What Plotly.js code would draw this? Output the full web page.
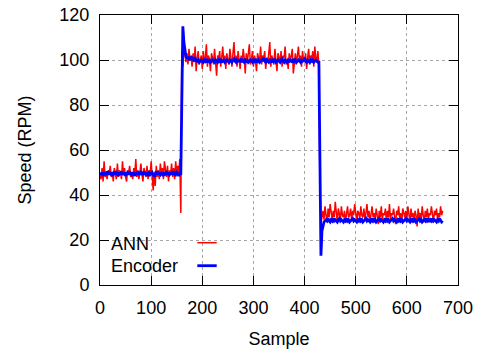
<!DOCTYPE html>
<html>
<head>
<meta charset="utf-8">
<script src="https://cdn.plot.ly/plotly-3.0.1.min.js"></script>
<style>html,body{margin:0;padding:0;background:#fff;}#chart{width:482px;height:352px;}</style>
</head>
<body>
<div id="chart"></div>
<script>
// Samples are every 2 units, starting at 0
var sampleStart = 0;
var sampleStep = 2;

var seriesNames = ["ANN", "Encoder"];

var annSpeed = [
  49, 47, 52, 46, 55, 48, 50, 47, 51, 49,
  53, 48, 50, 46, 52, 49, 47, 54, 48, 51,
  50, 47, 55, 49, 52, 48, 46, 51, 50, 53,
  48, 50, 47, 52, 49, 56, 48, 51, 47, 50,
  54, 49, 46, 52, 50, 48, 53, 47, 51, 49,
  55, 46, 42, 50, 44, 53, 48, 51, 47, 54,
  49, 52, 47, 55, 50, 48, 53, 46, 51, 49,
  54, 48, 52, 47, 55, 50, 53, 49, 56,
  32,
  104, 97, 106, 101, 99, 103, 98, 105, 100, 102,
  97, 103, 99, 106, 95, 101, 104, 98, 100, 102,
  96, 104, 99, 101, 107, 97, 102, 100, 95, 103,
  101, 98, 105, 99, 93, 102, 100, 104, 97, 101,
  106, 99, 102, 96, 103, 100, 98, 105, 101, 97,
  103, 108, 99, 102, 97, 104, 100, 96, 102, 99,
  105, 101, 94, 103, 99, 102, 107, 98, 100, 104,
  97, 102, 100, 95, 103, 101, 99, 106, 98, 102,
  100, 104, 96, 101, 99, 103, 108, 97, 102, 100,
  98, 105, 101, 95, 103, 100, 99, 104, 97, 102,
  101, 106, 98, 100, 96, 103, 99, 102, 105, 94,
  100, 103, 98, 101, 106, 99, 102, 97, 104, 100,
  99, 103, 96, 101, 105, 98, 102, 100, 104, 97,
  106, 101, 99, 104, 98,
  45, 27, 30,
  33, 29, 35, 31, 28, 34, 30, 36, 32, 29,
  33, 30, 37, 31, 28, 34, 32, 29, 35, 31,
  30, 33, 28, 32, 35, 30, 31, 34, 29, 33,
  31, 36, 30, 28, 33, 32, 29, 35, 31, 30,
  34, 29, 32, 36, 30, 33, 28, 31, 35, 30,
  32, 29, 34, 31, 27, 33, 30, 35, 29, 32,
  31, 34, 28, 33, 30, 36, 29, 32, 31, 34,
  30, 27, 33, 31, 35, 29, 32, 28, 34, 31,
  30, 33, 29, 35, 31, 28, 34, 30, 32, 29,
  33, 31, 26, 34, 30, 32, 29, 35, 31, 28,
  33, 30, 34, 29, 32, 31, 35, 30, 28, 33,
  31, 34, 29, 32, 30, 35, 31, 33
];

var encoderSpeed = [
  50, 49, 50, 48.5, 50, 49.5, 49, 50.5, 49, 50,
  49.5, 50, 48.5, 49.5, 50.5, 49, 50, 49.5, 48.5, 50,
  49, 50.5, 49.5, 49, 50, 48.5, 49.5, 50, 49, 50.5,
  49.5, 49, 50, 49.5, 48.5, 50, 49, 50.5, 49.5, 49,
  50, 49.5, 49, 50.5, 49, 50, 48.5, 49.5, 50, 49,
  49.5, 50, 49, 48, 49.5, 50.5, 49, 50, 49.5, 49,
  50, 49.5, 48.5, 50, 49.5, 50.5, 49, 50, 49, 49.5,
  50, 49, 50.5, 49.5, 49, 50, 49.5, 48.5, 49.5,
  49, 85, 115, 108, 103, 101.5, 101,
  101, 100.5, 101.5, 100, 101, 100.5, 99.5, 100.5, 100, 99.5,
  100, 99, 99.5, 100, 99.5, 99, 100, 99.5, 100.5, 99,
  99.5, 100, 99, 99.5, 100, 99.5, 99, 100, 99.5, 99,
  100, 99.5, 100.5, 99, 99.5, 100, 99, 99.5, 100, 99.5,
  99, 100, 99.5, 99, 100, 100.5, 99.5, 99, 100, 99.5,
  99.5, 100, 99, 100.5, 99.5, 99, 100, 99.5, 100, 99,
  99.5, 100, 99.5, 99, 100, 99.5, 100.5, 99, 99.5, 100,
  99, 99.5, 100, 99.5, 101, 99.5, 99, 100, 99.5, 99,
  100, 99.5, 99, 100.5, 99.5, 100, 99, 99.5, 100, 99.5,
  99, 100, 100.5, 99.5, 99, 100, 99.5, 99, 100, 99.5,
  100, 99.5, 99, 100.5, 99.5, 100, 99, 99.5, 100, 99.5,
  99, 100, 99.5, 100, 100.5, 99.5, 99, 100, 99.5, 99,
  100, 99.5, 100, 99, 99.5, 100, 99.5, 99, 99.5,
  60, 13, 24, 27, 28,
  28.5, 29, 28.5, 29.5, 28.5, 28, 29, 28.5, 29.5, 28.5,
  29, 28.5, 28, 29, 29.5, 28.5, 29, 28.5, 28, 29,
  28.5, 29.5, 28.5, 29, 28, 28.5, 29, 29.5, 28.5, 29,
  28.5, 28, 29, 28.5, 29.5, 28.5, 29, 28, 28.5, 29,
  29.5, 28.5, 29, 28.5, 28, 29, 28.5, 29.5, 28.5, 29,
  28, 28.5, 29, 29.5, 28.5, 29, 28.5, 28, 29, 28.5,
  29.5, 28.5, 29, 28, 28.5, 29, 29.5, 28.5, 29, 28.5,
  28, 29, 28.5, 29.5, 28.5, 29, 28, 28.5, 29, 29.5,
  28.5, 29, 28.5, 28, 29, 28.5, 29.5, 28.5, 29, 28,
  28.5, 29, 29.5, 28.5, 29, 28, 28.5, 29, 28.5, 29.5,
  28.5, 29, 28, 29, 28.5, 29.5, 28.5, 29, 28.5, 28,
  29, 28.5, 29.5, 28.5, 28, 28.5
];

var xTickValues = [0, 100, 200, 300, 400, 500, 600, 700];
var yTickValues = [0, 20, 40, 60, 80, 100, 120];

var FONT = "'Liberation Sans', Arial, Helvetica, sans-serif";
var colors = ["#ff0000", "#0000ff"];

var traces = [
  {
    type: "scatter", mode: "lines", name: seriesNames[0],
    x0: sampleStart, dx: sampleStep, y: annSpeed,
    line: {color: colors[0], width: 1.5},
    showlegend: false
  },
  {
    type: "scatter", mode: "lines", name: seriesNames[1],
    x0: sampleStart, dx: sampleStep, y: encoderSpeed,
    line: {color: colors[1], width: 2.8},
    showlegend: false
  }
];

var axisCommon = {
  showline: true, linecolor: "#000", linewidth: 1, mirror: "ticks",
  ticks: "inside", ticklen: 9, tickwidth: 1, tickcolor: "#000",
  showgrid: true, gridcolor: "#a8a8a8", griddash: "dot", gridwidth: 1,
  zeroline: false,
  tickfont: {family: FONT, size: 18, color: "#000"}
};

var layout = {
  width: 482, height: 352,
  margin: {l: 100, r: 24, t: 15, b: 67, pad: 0},
  paper_bgcolor: "#fff", plot_bgcolor: "#fff",
  font: {family: FONT, size: 18, color: "#000"},
  showlegend: false,
  xaxis: Object.assign({}, axisCommon, {
    range: [0, 700], tickmode: "array", tickvals: xTickValues,
    ticktext: xTickValues.map(String),
    ticklabelstandoff: 6,
    title: {text: "Sample", font: {family: FONT, size: 18, color: "#000"}, standoff: 15}
  }),
  yaxis: Object.assign({}, axisCommon, {
    range: [0, 120], tickmode: "array", tickvals: yTickValues,
    ticktext: yTickValues.map(String),
    ticklabelstandoff: 6,
    title: {text: "Speed (RPM)", font: {family: FONT, size: 18, color: "#000"}, standoff: 23}
  }),
  shapes: [
    {type: "rect", xref: "paper", yref: "paper", x0: 0, x1: 0.3547, y0: 0, y1: 0.2,
     fillcolor: "#fff", line: {width: 0}, layer: "between"},
    {type: "line", xref: "paper", yref: "paper", x0: 0.2718, x1: 0.326, y0: 0.1567, y1: 0.1567,
     line: {color: colors[0], width: 1.5}},
    {type: "line", xref: "paper", yref: "paper", x0: 0.2718, x1: 0.326, y0: 0.0715, y1: 0.0715,
     line: {color: colors[1], width: 2.8}}
  ],
  annotations: [
    {xref: "paper", yref: "paper", x: 0.024, y: 0.153, xanchor: "left", yanchor: "middle",
     text: seriesNames[0], showarrow: false, font: {family: FONT, size: 18, color: "#000"}},
    {xref: "paper", yref: "paper", x: 0.024, y: 0.0704, xanchor: "left", yanchor: "middle",
     text: seriesNames[1], showarrow: false, font: {family: FONT, size: 18, color: "#000"}}
  ]
};

Plotly.newPlot("chart", traces, layout, {displayModeBar: false, staticPlot: true});
</script>
</body>
</html>
